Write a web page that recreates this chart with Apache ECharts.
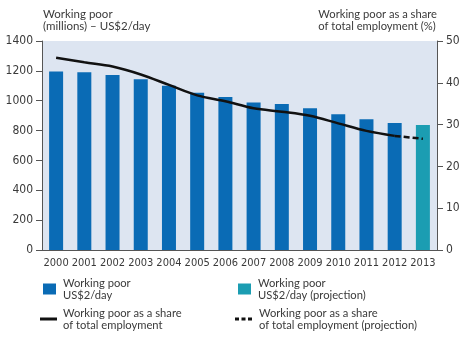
<!DOCTYPE html>
<html><head><meta charset="utf-8">
<script src="https://cdn.jsdelivr.net/npm/echarts@6/dist/echarts.min.js"></script>
<style>html,body{margin:0;padding:0;background:#fff}#c{width:470px;height:346px}</style>
</head><body><div id="c"></div>
<script>
var years = ['2000','2001','2002','2003','2004','2005','2006','2007','2008','2009','2010','2011','2012','2013'];
var workingPoor = [1195,1190,1172,1143,1100,1054,1025,988,978,950,910,876,850,null];
var workingPoorProj = [null,null,null,null,null,null,null,null,null,null,null,null,null,838];
var shareEmployment = [46.0,44.9,43.9,42.0,39.5,37.0,35.6,33.9,33.1,32.1,30.3,28.5,27.3,null];
var shareEmploymentProj = [null,null,null,null,null,null,null,null,null,null,null,null,27.3,26.6];
var leftTicks = {min:0,max:1400,interval:200};
var rightTicks = {min:0,max:50,interval:10};

var names = {
  a:'Working poor\nUS$2/day',
  b:'Working poor\nUS$2/day (projection)',
  c:'Working poor as a share\nof total employment',
  d:'Working poor as a share\nof total employment (projection)'
};
var narrow = '"Liberation Sans Narrow","Arial Narrow","DejaVu Sans Condensed","Liberation Sans",sans-serif';
var sans = 'Lato,"Liberation Sans",Arial,sans-serif';
var txt = '#3a3a3a';
var axisCol = '#555';
function lg(name, left, top, icon, w, h, gap){
  return {data:[{name:name, icon:icon}], left:left, top:top, orient:'vertical', itemWidth:w, itemHeight:h, itemGap:0, padding:0,
    textStyle:{fontFamily:sans,fontSize:11.2,color:txt,lineHeight:12,padding:[0,0,0,gap]}, selectedMode:false};
}
var chart = echarts.init(document.getElementById('c'));
chart.setOption({
  animation:false,
  textStyle:{fontFamily:sans},
  grid:{left:42,right:33,top:41,bottom:96,show:true,backgroundColor:'#dde5f1',borderWidth:0},
  graphic:[
    {type:'text',left:43,top:8,style:{text:'Working poor\n(millions) – US$2/day',font:'11.5px '+sans,fill:txt,lineHeight:12}},
    {type:'text',right:33,top:8,style:{text:'Working poor as a share\nof total employment (%)',font:'11.2px '+sans,fill:txt,lineHeight:12,align:'right'}}
  ],
  legend:[
    lg(names.a,43,277,'rect',13,11,2),
    lg(names.b,238,277,'rect',13,11,2),
    lg(names.c,40,307,'path://M0,0H17V3H0Z',17,3,1),
    lg(names.d,235,307,'path://M0,0H4V3H0ZM6.5,0H10.5V3H6.5ZM13,0H17V3H13Z',17,3,2)
  ],
  xAxis:{type:'category',data:years,
    axisLine:{show:true,lineStyle:{color:axisCol,width:1}},
    axisTick:{show:false},
    axisLabel:{fontFamily:narrow,fontSize:11,color:txt,margin:8,interval:0}},
  yAxis:[
    {type:'value',min:leftTicks.min,max:leftTicks.max,interval:leftTicks.interval,position:'left',
     axisLine:{show:true,lineStyle:{color:axisCol}},axisTick:{show:true,length:6,lineStyle:{color:axisCol}},
     splitLine:{show:false},axisLabel:{fontFamily:narrow,fontSize:12,color:txt,margin:9,formatter:function(v){return String(v);}}},
    {type:'value',min:rightTicks.min,max:rightTicks.max,interval:rightTicks.interval,position:'right',
     axisLine:{show:true,lineStyle:{color:axisCol}},axisTick:{show:true,length:6,lineStyle:{color:axisCol}},
     splitLine:{show:false},axisLabel:{fontFamily:narrow,fontSize:12,color:txt,margin:9}}
  ],
  series:[
    {name:names.a,type:'bar',stack:'w',data:workingPoor,barWidth:14,itemStyle:{color:'#0a6bb5'}},
    {name:names.b,type:'bar',stack:'w',data:workingPoorProj,barWidth:14,itemStyle:{color:'#1b9db2'}},
    {name:names.c,type:'line',yAxisIndex:1,data:shareEmployment,smooth:0.35,symbol:'none',
     lineStyle:{color:'#111',width:2.5},itemStyle:{color:'#111'}},
    {name:names.d,type:'line',yAxisIndex:1,data:shareEmploymentProj,symbol:'none',
     lineStyle:{color:'#111',width:2.5,type:[6,3]},itemStyle:{color:'#111'}}
  ]
});
</script></body></html>
